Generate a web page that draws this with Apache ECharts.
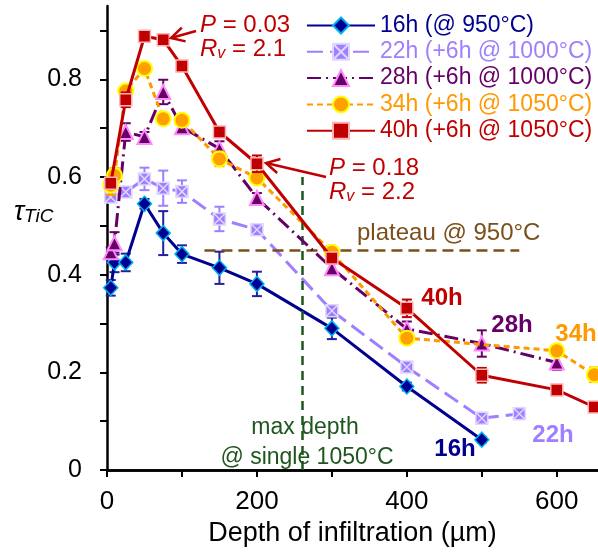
<!DOCTYPE html>
<html><head><meta charset="utf-8">
<script src="https://cdn.jsdelivr.net/npm/echarts@6/dist/echarts.min.js"></script>
<style>html,body{margin:0;padding:0;background:#fff}#c{width:598px;height:552px}</style>
</head><body><div id="c"></div>
<script>
// ---- data ----
const x16 = [5,10,25,50,75,100,150,200,300,400,500];
const y16 = [0.373,0.425,0.425,0.545,0.485,0.442,0.414,0.381,0.290,0.171,0.062];
const e16 = [0.016,0.02,0.018,0.01,0.045,0.018,0.033,0.025,0.022,0.008,0.006];

const x22 = [5,25,50,75,100,150,200,300,400,500,550];
const y22 = [0.559,0.569,0.596,0.577,0.570,0.514,0.492,0.326,0.211,0.106,0.115];
const e22 = [0.01,0.01,0.023,0.036,0.023,0.025,0.01,0.011,0.01,0.011,0.006];

const x28 = [5,10,25,50,75,100,150,200,300,400,500,600];
const y28 = [0.446,0.464,0.692,0.682,0.774,0.702,0.658,0.557,0.413,0.289,0.259,0.220];
const e28 = [0.01,0.023,0.018,0.01,0.025,0.013,0.015,0.01,0.01,0.015,0.027,0.015];

const x34 = [5,10,25,50,75,100,150,200,300,400,600,650];
const y34 = [0.583,0.603,0.776,0.822,0.719,0.716,0.637,0.598,0.446,0.270,0.244,0.195];
const e34 = [0.02,0.015,0.01,0.01,0.01,0.01,0.015,0.01,0.01,0.012,0.01,0.015];

const x40 = [5,25,50,75,100,150,200,300,400,500,600,650];
const y40 = [0.587,0.758,0.888,0.881,0.827,0.692,0.627,0.434,0.331,0.194,0.164,0.129];
const e40 = [0.01,0.015,0.005,0.005,0.005,0.01,0.017,0.01,0.018,0.015,0.008,0.008];

const seriesNames = ['16h (@ 950°C)','22h (+6h @ 1000°C)','28h (+6h @ 1000°C)','34h (+6h @ 1050°C)','40h (+6h @ 1050°C)'];
const xTicks = [0,100,200,300,400,500,600];
const xLabels = [0,200,400,600];
const yTicks = [0,0.1,0.2,0.3,0.4,0.5,0.6,0.7,0.8,0.9];
const yLabels = [0,0.2,0.4,0.6,0.8];
const plateauY = 0.45, plateauX = [130,550];
const maxDepthX = 260, maxDepthTop = 0.6;

// ---- styling ----
const FONT = 'Liberation Sans, Arial, sans-serif';
const C16='#000090', C22='#9f7fff', C28='#660066', C34='#ff9900', C40='#c00000';
const BROWN='#7b4f1c', GREEN='#1e561e';

function pairs(xs, ys){ return xs.map((x,i)=>[x,ys[i]]); }
function errSeries(xs, ys, es, color, z){
  return {
    type:'custom', name:'_err'+z, z:z, silent:true,
    data: xs.map((x,i)=>[x,ys[i],es[i]]),
    renderItem:(params, api)=>{
      const x=api.value(0), y=api.value(1), e=api.value(2);
      const a=api.coord([x,y+e]), b=api.coord([x,y-e]); const w=5;
      const st={stroke:color,lineWidth:2};
      return {type:'group',children:[
        {type:'line',shape:{x1:a[0],y1:a[1],x2:b[0],y2:b[1]},style:st},
        {type:'line',shape:{x1:a[0]-w,y1:a[1],x2:a[0]+w,y2:a[1]},style:st},
        {type:'line',shape:{x1:b[0]-w,y1:b[1],x2:b[0]+w,y2:b[1]},style:st}
      ]};
    }
  };
}
const xSquare = 'path://M0 0 L10 0 L10 10 L0 10 Z M0 0 L10 10 M10 0 L0 10';

const chart = echarts.init(document.getElementById('c'), null, {renderer:'canvas'});
const option = {
  animation:false,
  backgroundColor:'#fff',
  textStyle:{fontFamily:FONT},
  grid:{left:107, right:0, top:6, bottom:82, containLabel:false},
  xAxis:[{
    type:'value', min:0, max:655, interval:100,
    name:'Depth of infiltration (µm)', nameLocation:'middle', nameGap:45,
    nameTextStyle:{fontSize:27, color:'#000', fontFamily:FONT},
    axisLine:{show:true, onZero:false, lineStyle:{color:'#000', width:2.5}},
    axisTick:{show:true, inside:false, length:7, lineStyle:{color:'#000', width:2}, customValues:xTicks},
    axisLabel:{fontSize:26, color:'#000', margin:19, fontFamily:FONT, customValues:xLabels},
    splitLine:{show:false}
  },{
    type:'value', position:'top', min:0, max:655,
    axisLine:{show:true, lineStyle:{color:'#000', width:2.5}},
    axisTick:{show:false}, axisLabel:{show:false}, splitLine:{show:false}
  }],
  yAxis:{
    type:'value', min:0, max:0.95, interval:0.1,
    axisLine:{show:true, onZero:false, lineStyle:{color:'#000', width:2.5}},
    axisTick:{show:true, inside:false, length:7, lineStyle:{color:'#000', width:2}, customValues:yTicks},
    axisLabel:{fontSize:25, color:'#000', margin:25, fontFamily:FONT, customValues:yLabels,
      formatter:v=> v===0 ? '0' : v.toFixed(1)},
    splitLine:{show:false}
  },
  legend:{
    orient:'vertical', left:301, top:9, itemWidth:68, itemHeight:20, itemGap:3.3,
    textStyle:{fontSize:23, lineHeight:23, fontFamily:FONT},
    data:[
      {name:seriesNames[0], textStyle:{color:C16}},
      {name:seriesNames[1], textStyle:{color:C22}},
      {name:seriesNames[2], textStyle:{color:C28}},
      {name:seriesNames[3], textStyle:{color:C34}},
      {name:seriesNames[4], textStyle:{color:C40}}
    ]
  },
  series:[
    errSeries(x16,y16,e16,'#2020a0',1),
    {
      type:'line', name:seriesNames[0], z:2, data:pairs(x16,y16),
      symbol:'diamond', symbolSize:[14,15],
      lineStyle:{color:C16, width:3},
      itemStyle:{color:C16, borderColor:'#00b0f0', borderWidth:1.5},
      markLine:{silent:true, symbol:'none', label:{show:false},
        data:[
          [{coord:[plateauX[0],plateauY], lineStyle:{color:BROWN,width:2.5,type:[11,6]}},{coord:[plateauX[1],plateauY]}],
          [{coord:[maxDepthX,0], lineStyle:{color:GREEN,width:2.5,type:[9,6]}},{coord:[maxDepthX,maxDepthTop]}]
        ]}
    },
    errSeries(x22,y22,e22,C22,3),
    {
      type:'line', name:seriesNames[1], z:4, data:pairs(x22,y22),
      symbol:xSquare, symbolSize:12,
      lineStyle:{color:C22, width:3, type:[16,7]},
      itemStyle:{color:C22, borderColor:'#e0d6ff', borderWidth:1.5}
    },
    errSeries(x28,y28,e28,C28,5),
    {
      type:'line', name:seriesNames[2], z:6, data:pairs(x28,y28),
      symbol:'triangle', symbolSize:14,
      lineStyle:{color:C28, width:3, type:[14,5,2,5]},
      itemStyle:{color:C28, borderColor:'#ff88ff', borderWidth:2}
    },
    errSeries(x34,y34,e34,C34,7),
    {
      type:'line', name:seriesNames[3], z:8, data:pairs(x34,y34),
      symbol:'circle', symbolSize:15,
      lineStyle:{color:C34, width:3, type:[6,4]},
      itemStyle:{color:'#ffa000', borderColor:'#ffff00', borderWidth:2}
    },
    errSeries(x40,y40,e40,C40,9),
    {
      type:'line', name:seriesNames[4], z:10, data:pairs(x40,y40),
      symbol:'rect', symbolSize:12,
      lineStyle:{color:C40, width:3},
      itemStyle:{color:C40, borderColor:'#ffb3b3', borderWidth:1.5}
    }
  ],
  graphic:[]
};

function arrow(tail, tip, color){
  const dx=tail[0]-tip[0], dy=tail[1]-tip[1], L=Math.hypot(dx,dy);
  const ux=dx/L, uy=dy/L, h=15, ang=0.5;
  const r1=[tip[0]+h*(ux*Math.cos(ang)-uy*Math.sin(ang)), tip[1]+h*(ux*Math.sin(ang)+uy*Math.cos(ang))];
  const r2=[tip[0]+h*(ux*Math.cos(-ang)-uy*Math.sin(-ang)), tip[1]+h*(ux*Math.sin(-ang)+uy*Math.cos(-ang))];
  return [
    {type:'line', z:100, shape:{x1:tail[0],y1:tail[1],x2:tip[0],y2:tip[1]}, style:{stroke:color,lineWidth:2.5}},
    {type:'polyline', z:100, shape:{points:[r1,tip,r2]}, style:{stroke:color,lineWidth:2.5,fill:null}}
  ];
}
const rich = {
  i:{fontStyle:'italic', fontSize:24, fill:C40, fontFamily:FONT},
  n:{fontSize:24, fill:C40, fontFamily:FONT},
  s:{fontStyle:'italic', fontSize:16, fill:C40, fontFamily:FONT, padding:[10,0,0,0]}
};
function txt(x,y,text,color,size,bold,align){
  return {type:'text', z:100, x:x, y:y, style:{text:text, fill:color, font:(bold?'bold ':'')+size+'px '+FONT,
    textAlign:align||'center', textVerticalAlign:'middle'}};
}
option.graphic = [
  {type:'text', z:100, x:200, y:25, style:{text:'{i|P}{n| = 0.03}', fill:C40, rich:rich, textVerticalAlign:'middle'}},
  {type:'text', z:100, x:200, y:49, style:{text:'{i|R}{s|v}{n| = 2.1}', fill:C40, rich:rich, textVerticalAlign:'middle'}},
  {type:'text', z:100, x:329, y:168, style:{text:'{i|P}{n| = 0.18}', fill:C40, rich:rich, textVerticalAlign:'middle'}},
  {type:'text', z:100, x:329, y:192, style:{text:'{i|R}{s|v}{n| = 2.2}', fill:C40, rich:rich, textVerticalAlign:'middle'}},
  ...arrow([196,31],[171,38],C40),
  ...arrow([326,177],[266,163],C40),
  {type:'text', z:100, x:14, y:212, style:{text:'{t|τ}{s|TiC}', textVerticalAlign:'middle',
    rich:{t:{fontStyle:'italic', fontSize:27, fontFamily:FONT, fill:'#000'},
          s:{fontStyle:'italic', fontSize:19, fontFamily:FONT, fill:'#000', padding:[10,0,0,0]}}}},
  txt(357,233,'plateau @ 950°C',BROWN,24,false,'left'),
  txt(305,428,'max depth',GREEN,23,false),
  txt(307,458,'@ single 1050°C',GREEN,23,false),
  txt(442,298,'40h',C40,24,true),
  txt(512,325,'28h',C28,24,true),
  txt(576,334,'34h',C34,24,true),
  txt(553,435,'22h',C22,24,true),
  txt(455,449,'16h',C16,24,true)
];
chart.setOption(option);
</script>
</body></html>
